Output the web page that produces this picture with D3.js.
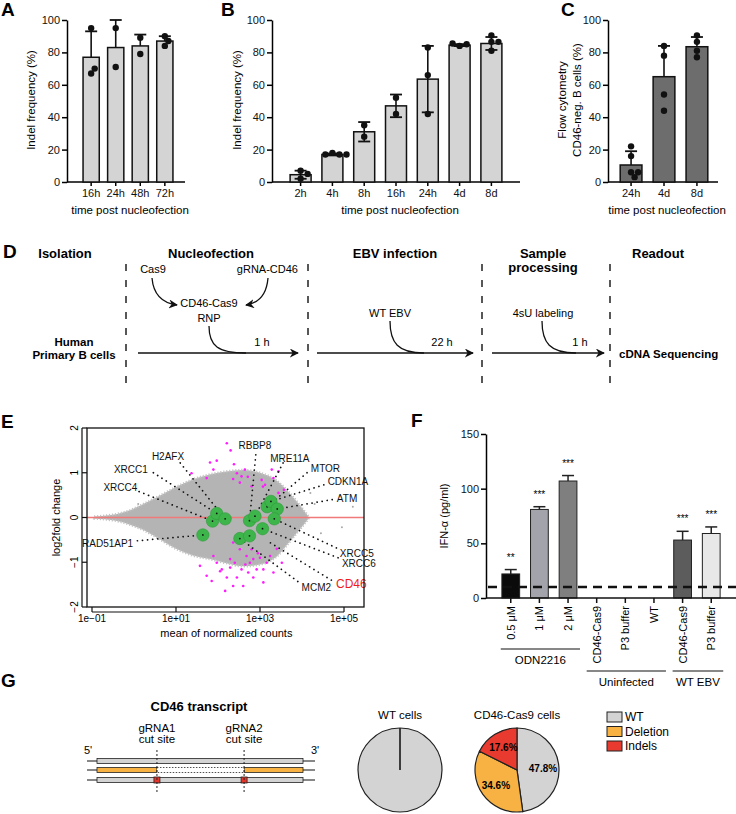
<!DOCTYPE html>
<html>
<head>
<meta charset="utf-8">
<script src="https://d3js.org/d3.v7.min.js"></script>
<style>
body { margin: 0; background: #fff; }
svg { font-family: "Liberation Sans", Arial, sans-serif; }
</style>
</head>
<body>
<div id="fig"></div>
<script>

// ---------- data ----------
// A: indel frequency, early time points
const timesA = ["16h", "24h", "48h", "72h"];
const meanA = [77, 83, 84, 87];
const sdA = [16, 17, 7, 3];
const dotsA = [[95, 67, 70], [95, 71], [89, 79], [84, 87, 90]];

// B: indel frequency, time course
const timesB = ["2h", "4h", "8h", "16h", "24h", "4d", "8d"];
const meanB = [4.5, 17, 31, 47, 63.5, 84.5, 85.5];
const sdB = [2.5, 0.6, 6, 7, 20.5, 0.6, 4];
const dotsB = [[7, 5, 2], [18, 17, 17, 17], [35, 28], [52, 42], [83, 66, 42], [84, 85, 85.5], [90.5, 86.5, 86.5, 81]];

// C: flow cytometry CD46-negative cells
const timesC = ["24h", "4d", "8d"];
const meanC = [10.5, 65, 83.5];
const sdC = [8.5, 19, 6];
const dotsC = [[22, 16, 6, 6, 3], [84, 78, 54, 44], [90.5, 86.5, 81, 77]];

// D: workflow
const stepTitles = ["Isolation", "Nucleofection", "EBV infection", "Sample|processing", "Readout"];
const stepDurations = ["1 h", "22 h", "1 h"];

// E: MA plot (log10 mean of normalized counts, log2 fold change)
const cloudLogMean = [-0.95, -0.7, -0.4, -0.1, 0.2, 0.6, 1.0, 1.4, 1.8, 2.2, 2.6, 3.0, 3.4, 3.7, 3.9, 4.05, 4.15];
const cloudUpper = [0.02, 0.04, 0.08, 0.16, 0.29, 0.48, 0.68, 0.85, 0.96, 1.03, 1.06, 1.0, 0.82, 0.55, 0.33, 0.15, 0.03];
const cloudLower = [-0.02, -0.04, -0.08, -0.16, -0.27, -0.48, -0.7, -0.85, -0.93, -1.02, -1.09, -1.05, -0.87, -0.55, -0.32, -0.15, -0.03];
const strayLogMean = [5.21, 4.95, 4.3, 4.45, 0.1, 4.2];
const strayLfc = [0.24, -0.22, 0.3, -0.35, 0.3, 0.55];
const sigUpLogMean = [2.21, 2.30, 1.81, 1.97, 1.89, 1.37, 1.73, 2.38, 2.45, 2.56, 2.36, 2.64, 2.80, 3.04, 3.28, 3.32, 3.44, 3.12, 3.44, 3.57, 2.52, 2.71, 3.07];
const sigUpLfc = [1.66, 1.50, 1.23, 1.27, 1.07, 0.99, 0.88, 1.19, 0.99, 0.92, 0.86, 1.07, 0.70, 0.84, 1.07, 0.88, 1.03, 0.73, 0.55, 0.62, 0.78, 0.91, 0.69];
const sigDownLogMean = [2.36, 2.52, 2.68, 2.29, 2.40, 2.76, 2.92, 1.97, 1.73, 2.21, 2.45, 2.84, 2.60, 3.16, 3.32, 3.08, 2.09, 1.57, 1.85, 2.29, 2.80, 3.0, 2.56, 2.72, 2.36, 2.17, 3.24, 3.52, 1.89, 2.84, 3.08, 2.05, 2.65, 2.95, 3.4];
const sigDownLfc = [-0.56, -0.71, -0.86, -0.93, -1.01, -1.01, -1.16, -1.01, -1.30, -1.34, -1.34, -1.34, -1.53, -1.01, -1.23, -1.45, -1.16, -1.08, -1.42, -1.12, -0.71, -0.90, -1.16, -1.23, -1.53, -1.64, -0.86, -1.01, -0.86, -0.93, -1.16, -1.2, -1.05, -0.8, -0.7];
const geneNames = ["RAD51AP1", "XRCC4", "XRCC1", "H2AFX", "MCM2", "", "RBBP8", "MRE11A", "XRCC6", "MTOR", "CDKN1A", "ATM", "XRCC5", "CD46"];
const geneLogMean = [1.64, 1.87, 1.97, 2.17, 2.52, 2.75, 2.75, 2.88, 3.06, 3.17, 3.26, 3.41, 3.34, 3.22];
const geneLfc = [-0.39, -0.08, 0.09, -0.03, -0.47, -0.41, -0.07, 0.03, -0.25, 0.24, 0.36, 0.19, -0.03, -0.55];

// F: IFN-alpha
const ifnLabels = ["0.5 μM", "1 μM", "2 μM", "CD46-Cas9", "P3 buffer", "WT", "CD46-Cas9", "P3 buffer"];
const ifnMean = [22, 81, 107, 0, 0, 0, 53, 59];
const ifnSem = [4, 2.5, 5, 0, 0, 0, 8, 6];
const ifnStars = ["**", "***", "***", "", "", "", "***", "***"];
const ifnGroups = [["ODN2216", 0, 2, 0], ["Uninfected", 3, 5, 1], ["WT EBV", 6, 7, 1]];
const ifnDetection = 10;

// G: transcript pies
const pieCats = ["WT", "Deletion", "Indels"];
const wtCells = [100, 0, 0];
const cas9Cells = [47.8, 34.6, 17.6];
const cutSites = [0.291, 0.714];

// ---------- figure ----------
const svg = d3.select("#fig").append("svg")
  .attr("width", 736).attr("height", 814)
  .style("background", "#fff");

function letter(t, x, y) {
  svg.append("text").attr("x", x).attr("y", y).text(t)
    .attr("font-size", 19).attr("font-weight", "bold");
}

// beeswarm-like horizontal offsets for the dots
function swarm(vals, y, r) {
  const placed = [];
  return vals.map(v => {
    const py = y(v);
    const cands = [0];
    for (let i = 1; i < 6; i++) cands.push(i * r * 1.1, -i * r * 1.1);
    let dx = 0;
    for (const c of cands) {
      if (placed.every(p => Math.hypot(p[0] - c, p[1] - py) >= 2 * r * 0.9)) { dx = c; break; }
    }
    placed.push([dx, py]);
    return [dx, py];
  });
}

function barPanel(cfg) {
  const g = svg.append("g");
  const y = d3.scaleLinear().domain([0, 100]).range([182, 20]);
  const x = d3.scaleBand().domain(cfg.cats).range(cfg.band).padding(0.34);

  // y axis
  const ya = g.append("g").attr("transform", `translate(${cfg.x0},0)`)
    .call(d3.axisLeft(y).tickValues([0, 20, 40, 60, 80, 100]).tickSize(5).tickSizeOuter(0).tickPadding(2));
  ya.select(".domain").attr("stroke-width", 1.5);
  ya.selectAll(".tick line").attr("stroke-width", 1.5);
  ya.selectAll("text").attr("font-size", 11).attr("font-family", "Liberation Sans, Arial").attr("fill", "#111");

  // x axis
  g.append("line").attr("x1", cfg.x0).attr("x2", cfg.x1).attr("y1", y(0)).attr("y2", y(0))
    .attr("stroke", "#000").attr("stroke-width", 1.5);
  const xa = g.append("g").attr("transform", `translate(0,${y(0)})`)
    .call(d3.axisBottom(x).tickSize(4).tickPadding(3));
  xa.select(".domain").remove();
  xa.selectAll(".tick line").attr("stroke-width", 1.5);
  xa.selectAll("text").attr("font-size", 11).attr("font-family", "Liberation Sans, Arial").attr("fill", "#111");

  const bw = x.bandwidth();
  g.selectAll("rect.bar").data(cfg.mean).join("rect")
    .attr("x", (d, i) => x(cfg.cats[i])).attr("width", bw)
    .attr("y", d => y(d)).attr("height", d => y(0) - y(d))
    .attr("fill", cfg.fill).attr("stroke", "#111").attr("stroke-width", 1.5);

  // error bars
  cfg.mean.forEach((m, i) => {
    const cx = x(cfg.cats[i]) + bw / 2;
    const top = y(m + cfg.sd[i]);
    const bot = cfg.both ? y(m - cfg.sd[i]) : y(m);
    g.append("line").attr("x1", cx).attr("x2", cx).attr("y1", top).attr("y2", bot)
      .attr("stroke", "#111").attr("stroke-width", 1.6);
    g.append("line").attr("x1", cx - 6).attr("x2", cx + 6).attr("y1", top).attr("y2", top)
      .attr("stroke", "#111").attr("stroke-width", 1.8);
    if (cfg.both) {
      g.append("line").attr("x1", cx - 6).attr("x2", cx + 6).attr("y1", bot).attr("y2", bot)
        .attr("stroke", "#111").attr("stroke-width", 1.8);
    }
    swarm(cfg.dots[i], y, 3.2).forEach(p => {
      g.append("circle").attr("cx", cx + p[0]).attr("cy", p[1]).attr("r", 3.2).attr("fill", "#111");
    });
  });

  // axis titles
  cfg.ylab.forEach((t, k) => {
    g.append("text")
      .attr("transform", `translate(${cfg.ylabX + k * 15},${cfg.ylabY}) rotate(-90)`)
      .attr("text-anchor", "middle").attr("font-size", 11.5).text(t);
  });
  g.append("text").attr("x", (cfg.x0 + cfg.x1) / 2 + 4).attr("y", 214)
    .attr("text-anchor", "middle").attr("font-size", 11.5).text("time post nucleofection");
}

letter("A", 1, 16);
barPanel({ cats: timesA, mean: meanA, sd: sdA, dots: dotsA, both: false, fill: "#d4d4d4",
  x0: 67, x1: 185, band: [74.7, 181.3], ylab: ["Indel frequency (%)"], ylabX: 35, ylabY: 100 });

letter("B", 221, 16);
barPanel({ cats: timesB, mean: meanB, sd: sdB, dots: dotsB, both: true, fill: "#d4d4d4",
  x0: 272, x1: 520, band: [279.3, 512.7], ylab: ["Indel frequency (%)"], ylabX: 241, ylabY: 100 });

letter("C", 561, 16);
barPanel({ cats: timesC, mean: meanC, sd: sdC, dots: dotsC, both: false, fill: "#6d6d6d",
  x0: 608, x1: 718, band: [609, 719], ylab: ["Flow cytometry", "CD46-neg. B cells (%)"], ylabX: 566, ylabY: 100 });

// ---------- D: workflow ----------
letter("D", 3, 258);
const gD = svg.append("g");
const defs = svg.append("defs");
defs.append("marker").attr("id", "ah").attr("viewBox", "0 0 10 10").attr("refX", 9).attr("refY", 5)
  .attr("markerWidth", 9).attr("markerHeight", 9).attr("markerUnits", "userSpaceOnUse").attr("orient", "auto")
  .append("path").attr("d", "M0,0 L10,5 L0,10 L3,5 Z").attr("fill", "#111");

const titleX = [65, 211, 395, 543, 658];
stepTitles.forEach((t, i) => {
  t.split("|").forEach((line, k) => {
    gD.append("text").attr("x", titleX[i]).attr("y", 258 + k * 14)
      .attr("text-anchor", "middle").attr("font-size", 13).attr("font-weight", "bold").text(line);
  });
});
[126, 308, 482, 610].forEach(x => {
  gD.append("line").attr("x1", x).attr("x2", x).attr("y1", 264).attr("y2", 392)
    .attr("stroke", "#111").attr("stroke-width", 1.4).attr("stroke-dasharray", "7,9");
});
const txt = (x, y, t, anchor, size, weight) => gD.append("text").attr("x", x).attr("y", y)
  .attr("text-anchor", anchor || "middle").attr("font-size", size || 11).attr("font-weight", weight || "normal").text(t);

txt(74, 346, "Human", "middle", 11.5, "bold");
txt(74, 359, "Primary B cells", "middle", 11.5, "bold");
txt(153, 273, "Cas9");
txt(298, 273, "gRNA-CD46", "end");
txt(209, 307, "CD46-Cas9");
txt(209, 322, "RNP");
txt(390, 317, "WT EBV");
txt(543, 317, "4sU labeling");
txt(619, 358, "cDNA Sequencing", "start", 11.5, "bold");

const arrowSegs = [[138, 298], [317, 473], [492, 604]];
const durX = [262, 442, 580];
arrowSegs.forEach((s, i) => {
  gD.append("line").attr("x1", s[0]).attr("x2", s[1]).attr("y1", 353).attr("y2", 353)
    .attr("stroke", "#111").attr("stroke-width", 1.3).attr("marker-end", "url(#ah)");
  txt(durX[i], 346, stepDurations[i]);
});
const curves = [
  "M152,278 Q154,302 177,305",
  "M268,278 Q266,302 246,305",
  "M209,326 C209,346 218,353 246,353",
  "M390,321 C390,343 398,353 424,353",
  "M542,321 C542,343 550,353 576,353"
];
curves.forEach((d, i) => {
  gD.append("path").attr("d", d).attr("fill", "none").attr("stroke", "#111").attr("stroke-width", 1.3)
    .attr("marker-end", i < 2 ? "url(#ah)" : null);
});

// ---------- E: MA plot ----------
letter("E", 1, 428);
const gE = svg.append("g");
const xE = d3.scaleLinear().domain([-1.119, 5.476]).range([87, 364]);
const yE = d3.scaleLinear().domain([-2, 2]).range([607, 428]);

gE.append("path")
  .datum(cloudLogMean.map((m, i) => [m, cloudUpper[i], cloudLower[i]]))
  .attr("d", d3.area().x(d => xE(d[0])).y0(d => yE(d[2])).y1(d => yE(d[1])).curve(d3.curveMonotoneX))
  .attr("fill", "#b4b4b4").attr("stroke", "#c4c4c4").attr("stroke-width", 2.5).attr("stroke-dasharray", "1.2,1.8");
gE.selectAll("circle.stray").data(strayLogMean).join("circle")
  .attr("cx", d => xE(d)).attr("cy", (d, i) => yE(strayLfc[i])).attr("r", 1).attr("fill", "#a8a8a8");
gE.append("line").attr("x1", 87).attr("x2", 364).attr("y1", yE(0)).attr("y2", yE(0))
  .attr("stroke", "#f07a7a").attr("stroke-width", 1.6);
const sig = sigUpLogMean.map((m, i) => [m, sigUpLfc[i]]).concat(sigDownLogMean.map((m, i) => [m, sigDownLfc[i]]));
gE.selectAll("circle.sig").data(sig).join("circle")
  .attr("cx", d => xE(d[0])).attr("cy", d => yE(d[1])).attr("r", 1.3).attr("fill", "#ff1aff");

// labels and leader lines (label anchor in data coordinates)
const labelSpots = {
  "RAD51AP1": [-0.02, -0.58, "end"], "XRCC4": [0.08, 0.68, "end"], "XRCC1": [0.33, 1.08, "end"],
  "H2AFX": [0.81, 1.37, "middle"], "RBBP8": [2.88, 1.62, "middle"], "MRE11A": [3.71, 1.33, "middle"],
  "MTOR": [4.21, 1.11, "start"], "CDKN1A": [4.61, 0.82, "start"], "ATM": [4.83, 0.44, "start"],
  "XRCC5": [4.9, -0.8, "start"], "XRCC6": [4.95, -1.02, "start"], "CD46": [4.81, -1.48, "start"], "MCM2": [3.99, -1.55, "start"]
};
const leaderStart = {
  "RAD51AP1": [0.08, -0.52], "XRCC4": [0.12, 0.58], "XRCC1": [0.46, 1.0], "H2AFX": [1.1, 1.22],
  "RBBP8": [2.9, 1.4], "MRE11A": [3.55, 1.22], "MTOR": [4.12, 1.0], "CDKN1A": [4.52, 0.73],
  "ATM": [4.72, 0.4], "XRCC5": [4.82, -0.68], "XRCC6": [4.86, -0.9], "CD46": [4.7, -1.4], "MCM2": [3.9, -1.43]
};
geneNames.forEach((n, i) => {
  if (!n) return;
  const s = leaderStart[n];
  gE.append("line").attr("x1", xE(s[0])).attr("y1", yE(s[1]))
    .attr("x2", xE(geneLogMean[i])).attr("y2", yE(geneLfc[i]))
    .attr("stroke", "#111").attr("stroke-width", 1.7).attr("stroke-linecap", "round")
    .attr("stroke-dasharray", "0.1,5");
  const l = labelSpots[n];
  gE.append("text").attr("x", xE(l[0])).attr("y", yE(l[1]) + 4).attr("text-anchor", l[2])
    .attr("fill", n === "CD46" ? "#ee1c1c" : "#111")
    .attr("font-size", n === "CD46" ? 12 : 10).text(n);
});
geneNames.forEach((n, i) => {
  if (n === "CD46") return;
  gE.append("circle").attr("cx", xE(geneLogMean[i])).attr("cy", yE(geneLfc[i])).attr("r", 6.2)
    .attr("fill", "#3db54a").attr("stroke", "#2f9a3c").attr("stroke-width", 0.6);
  gE.append("circle").attr("cx", xE(geneLogMean[i])).attr("cy", yE(geneLfc[i])).attr("r", 0.9).attr("fill", "#111");
});
gE.append("rect").attr("x", 87).attr("y", 428).attr("width", 277).attr("height", 179)
  .attr("fill", "none").attr("stroke", "#111").attr("stroke-width", 1.3);
// R-style axes
const xTicksE = [-1, 1, 3, 5];
xTicksE.forEach(t => {
  gE.append("line").attr("x1", xE(t)).attr("x2", xE(t)).attr("y1", 607).attr("y2", 612).attr("stroke", "#111").attr("stroke-width", 1.2);
  gE.append("text").attr("x", xE(t)).attr("y", 622).attr("text-anchor", "middle").attr("font-size", 10)
    .text("1e" + (t < 0 ? "\u2212" : "+") + String(Math.abs(t)).padStart(2, "0"));
});
gE.append("line").attr("x1", xE(-1)).attr("x2", xE(5)).attr("y1", 612).attr("y2", 612).attr("stroke", "#111").attr("stroke-width", 1.2);
[-2, -1, 0, 1, 2].forEach(t => {
  gE.append("line").attr("x1", 82).attr("x2", 87).attr("y1", yE(t)).attr("y2", yE(t)).attr("stroke", "#111").attr("stroke-width", 1.2);
  gE.append("text").attr("transform", `translate(78,${yE(t)}) rotate(-90)`).attr("text-anchor", "middle")
    .attr("font-size", 10).text(t < 0 ? "\u2212" + Math.abs(t) : t);
});
gE.append("line").attr("x1", 82).attr("x2", 82).attr("y1", yE(-2)).attr("y2", yE(2)).attr("stroke", "#111").attr("stroke-width", 1.2);
gE.append("text").attr("x", xE(2.2)).attr("y", 637).attr("text-anchor", "middle").attr("font-size", 11).text("mean of normalized counts");
gE.append("text").attr("transform", `translate(60,${yE(0)}) rotate(-90)`).attr("text-anchor", "middle")
  .attr("font-size", 11).text("log2fold change");

// ---------- F: IFN-alpha ----------
letter("F", 411, 427);
const gF = svg.append("g");
const yF = d3.scaleLinear().domain([0, 150]).range([598, 434]);
const xF = d3.scaleBand().domain(d3.range(ifnMean.length)).range([491, 731]).padding(0.38);
const ifnFill = ["#0b0b0b", "#a3a3ab", "#7f7f7f", "#fff", "#fff", "#fff", "#5c5c5c", "#e8e8e8"];
const fa = gF.append("g").attr("transform", "translate(486,0)")
  .call(d3.axisLeft(yF).tickValues([0, 50, 100, 150]).tickSize(5).tickSizeOuter(0).tickPadding(2));
fa.select(".domain").attr("stroke-width", 1.5);
fa.selectAll(".tick line").attr("stroke-width", 1.5);
fa.selectAll("text").attr("font-size", 11).attr("font-family", "Liberation Sans, Arial").attr("fill", "#111");
gF.append("text").attr("transform", `translate(448,516) rotate(-90)`).attr("text-anchor", "middle")
  .attr("font-size", 11).text("IFN-α (pg/ml)");

gF.selectAll("rect").data(ifnMean).join("rect")
  .attr("x", (d, i) => xF(i)).attr("width", xF.bandwidth())
  .attr("y", d => yF(d)).attr("height", d => yF(0) - yF(d))
  .attr("fill", (d, i) => ifnFill[i]).attr("stroke", "#222").attr("stroke-width", d => d > 0 ? 1 : 0);
ifnMean.forEach((m, i) => {
  if (m <= 0) return;
  const cx = xF(i) + xF.bandwidth() / 2;
  const top = yF(m + ifnSem[i]);
  gF.append("line").attr("x1", cx).attr("x2", cx).attr("y1", top).attr("y2", yF(m)).attr("stroke", "#222").attr("stroke-width", 1.5);
  gF.append("line").attr("x1", cx - 6).attr("x2", cx + 6).attr("y1", top).attr("y2", top).attr("stroke", "#222").attr("stroke-width", 1.5);
  gF.append("text").attr("x", cx).attr("y", top - 9).attr("text-anchor", "middle").attr("font-size", 10).text(ifnStars[i]);
});
gF.append("line").attr("x1", 486).attr("x2", 736).attr("y1", yF(0)).attr("y2", yF(0)).attr("stroke", "#111").attr("stroke-width", 1.5);
gF.append("line").attr("x1", 488).attr("x2", 736).attr("y1", yF(ifnDetection)).attr("y2", yF(ifnDetection))
  .attr("stroke", "#111").attr("stroke-width", 2.6).attr("stroke-dasharray", "9,6");
ifnLabels.forEach((t, i) => {
  const cx = xF(i) + xF.bandwidth() / 2;
  gF.append("line").attr("x1", cx).attr("x2", cx).attr("y1", 598).attr("y2", 603).attr("stroke", "#111").attr("stroke-width", 1.5);
  gF.append("text").attr("transform", `translate(${cx + 4},606) rotate(-90)`).attr("text-anchor", "end")
    .attr("font-size", 11).text(t);
});
ifnGroups.forEach(gr => {
  const a = xF(gr[1]) + xF.bandwidth() / 2 - 10, b = xF(gr[2]) + xF.bandwidth() / 2 + 12;
  const yy = gr[3] ? 671 : 649;
  gF.append("line").attr("x1", a).attr("x2", b).attr("y1", yy).attr("y2", yy).attr("stroke", "#111").attr("stroke-width", 1.2);
  gF.append("text").attr("x", (a + b) / 2).attr("y", yy + 15).attr("text-anchor", "middle").attr("font-size", 11.5).text(gr[0]);
});

// ---------- G: transcript and pies ----------
letter("G", 1, 687);
const gG = svg.append("g");
gG.append("text").attr("x", 199).attr("y", 711).attr("text-anchor", "middle").attr("font-size", 13)
  .attr("font-weight", "bold").text("CD46 transcript");
const xT = d3.scaleLinear().domain([0, 1]).range([97, 303]);
const rows = [761, 770, 780];
rows.forEach(ry => {
  gG.append("line").attr("x1", 87).attr("x2", 315).attr("y1", ry).attr("y2", ry).attr("stroke", "#111").attr("stroke-width", 1);
});
gG.append("rect").attr("x", xT(0)).attr("y", rows[0] - 2.5).attr("width", xT(1) - xT(0)).attr("height", 5)
  .attr("fill", "#d3d3d3").attr("stroke", "#222").attr("stroke-width", 0.8);
[[0, cutSites[0]], [cutSites[1], 1]].forEach(seg => {
  gG.append("rect").attr("x", xT(seg[0])).attr("y", rows[1] - 2.5).attr("width", xT(seg[1]) - xT(seg[0])).attr("height", 5)
    .attr("fill", "#f8b243").attr("stroke", "#222").attr("stroke-width", 0.8);
});
gG.append("rect").attr("x", xT(cutSites[0])).attr("y", rows[1] - 2.5).attr("width", xT(cutSites[1]) - xT(cutSites[0])).attr("height", 5)
  .attr("fill", "#fff").attr("stroke", "#222").attr("stroke-width", 0.8).attr("stroke-dasharray", "1.5,1.5");
gG.append("rect").attr("x", xT(0)).attr("y", rows[2] - 2.5).attr("width", xT(1) - xT(0)).attr("height", 5)
  .attr("fill", "#d3d3d3").attr("stroke", "#222").attr("stroke-width", 0.8);
cutSites.forEach((c, k) => {
  gG.append("rect").attr("x", xT(c) - 3).attr("y", rows[2] - 3).attr("width", 6).attr("height", 6)
    .attr("fill", "#e5352a").attr("stroke", "#222").attr("stroke-width", 0.8);
  gG.append("line").attr("x1", xT(c)).attr("x2", xT(c)).attr("y1", 750).attr("y2", 793)
    .attr("stroke", "#222").attr("stroke-width", 1).attr("stroke-dasharray", "2,2");
  gG.append("text").attr("x", xT(c)).attr("y", 732).attr("text-anchor", "middle").attr("font-size", 11.5).text("gRNA" + (k + 1));
  gG.append("text").attr("x", xT(c)).attr("y", 743).attr("text-anchor", "middle").attr("font-size", 11.5).text("cut site");
});
gG.append("text").attr("x", 88).attr("y", 754).attr("text-anchor", "middle").attr("font-size", 11).text("5'");
gG.append("text").attr("x", 315).attr("y", 754).attr("text-anchor", "middle").attr("font-size", 11).text("3'");

const pieColor = d3.scaleOrdinal().domain(pieCats).range(["#d3d3d3", "#f8b243", "#e93a2f"]);
const pie = d3.pie().sort(null);
const arc = d3.arc().innerRadius(0).outerRadius(42);
const labelArc = d3.arc().innerRadius(26).outerRadius(26);
function drawPie(vals, cx, title, showPct) {
  const p = gG.append("g").attr("transform", `translate(${cx},770)`);
  p.selectAll("path").data(pie(vals)).join("path").attr("d", arc)
    .attr("fill", (d, i) => pieColor(pieCats[i])).attr("stroke", "#222").attr("stroke-width", 1.2);
  if (showPct) {
    p.selectAll("text").data(pie(vals)).join("text")
      .attr("transform", d => `translate(${labelArc.centroid(d)})`).attr("dy", "0.35em")
      .attr("text-anchor", "middle").attr("font-size", 10).attr("font-weight", "bold")
      .text(d => d.data.toFixed(1) + "%");
  }
  gG.append("text").attr("x", cx).attr("y", 719).attr("text-anchor", "middle").attr("font-size", 11.5).text(title);
}
drawPie(wtCells, 400, "WT cells", false);
drawPie(cas9Cells, 517, "CD46-Cas9 cells", true);
pieCats.forEach((c, i) => {
  gG.append("rect").attr("x", 607).attr("y", 712 + i * 14.5).attr("width", 15).attr("height", 10)
    .attr("fill", pieColor(c)).attr("stroke", "#222").attr("stroke-width", 1);
  gG.append("text").attr("x", 625).attr("y", 721 + i * 14.5).attr("font-size", 12).text(c);
});
</script>
</body>
</html>
